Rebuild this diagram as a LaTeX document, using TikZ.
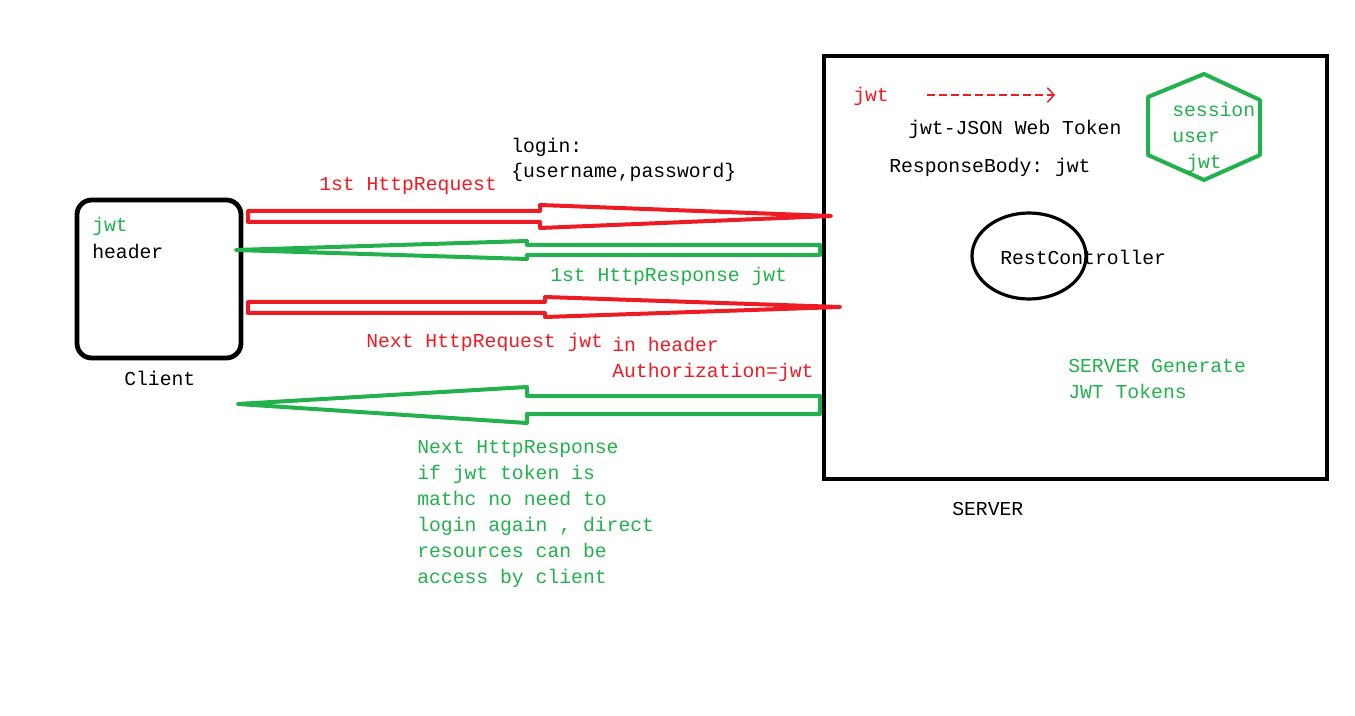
\documentclass[tikz,border=0pt]{standalone}
\usepackage{fontspec}
\setmonofont{Liberation Mono}
\usetikzlibrary{positioning,arrows.meta,shapes.geometric}
\definecolor{jwtred}{HTML}{ED1C24}
\definecolor{jwtgreen}{HTML}{22B14C}
\tikzset{
    txt/.style={font=\ttfamily\fontsize{14.8}{19.5}\selectfont,inner sep=0pt,anchor=base west,yshift=-1.5pt},
    redtxt/.style={txt,text=jwtred},
    greentxt/.style={txt,text=jwtgreen},
    reqarrow/.style={draw=jwtred,line width=3pt,line join=round},
    resparrow/.style={draw=jwtgreen,line width=3pt,line join=round},
    clientbox/.style={draw,line width=3.6pt,rounded corners=11pt,minimum width=123pt,minimum height=118.5pt},
    serverbox/.style={draw,line width=3pt,minimum width=377pt,minimum height=317pt},
    ctrl/.style={ellipse,draw,line width=2.4pt,minimum width=85.5pt,minimum height=64.5pt},
    store/.style={draw=jwtgreen,line width=3pt,line join=round},
}

\begin{document}
\begin{tikzpicture}[x=0.75pt,y=-0.75pt]
    \useasboundingbox (0,0) rectangle (1355,716);

    % client and server
    \node[clientbox] (client) at (159,279) {};
    \node[txt,text=jwtgreen] (cjwt) at (92,230) {jwt};
    \node[txt] (chead) at (92,257) {header};
    \node[txt] (clabel) at (124,383) {Client};

    \node[serverbox] (server) at (1075.5,267.5) {};
    \node[txt] (slabel) at (952,513) {SERVER};
    \node[ctrl] (rest) at (1029,256) {};
    \node[txt] (restlbl) at (1000,263) {RestController};

    % session store
    \draw[store] (1204,74) -- (1260,100) -- (1260,155) -- (1204,180)
        -- (1148,155) -- (1148,97) -- cycle;
    \node[greentxt] (sess) at (1172,115) {session};
    \node[greentxt] (suser) at (1172,141) {user};
    \node[greentxt] (sjwt) at (1186,167) {jwt};

    % server notes
    \node[redtxt] (tok) at (853,100) {jwt};
    \coordinate (tokend) at (1055,95);
    \draw[jwtred,line width=1.1pt,dash pattern=on 6pt off 3pt,
        -{Straight Barb[length=5pt,width=11pt]}] (927,95) -- (tokend);
    \node[txt] (tokdef) at (908,133) {jwt-JSON Web Token};
    \node[txt] (body) at (889,171) {ResponseBody: jwt};
    \node[greentxt] (gen1) at (1068,370) {SERVER Generate};
    \node[greentxt] (gen2) at (1068,396) {JWT Tokens};

    % 1st request / response
    \draw[reqarrow] (248,211) -- (540,211) -- (540,205) -- (831,216)
        -- (540,228) -- (540,222) -- (248,222) -- cycle;
    \node[redtxt] (req1) at (319,189) {1st HttpRequest};
    \node[txt] (login) at (511,151) {login:};
    \node[txt] (cred) at (511,176) {\{username,password\}};

    \draw[resparrow] (820,245) -- (527,245) -- (527,241) -- (236,250)
        -- (527,259) -- (527,255) -- (820,255) -- cycle;
    \node[greentxt] (resp1) at (550,280) {1st HttpResponse jwt};

    % next request / response
    \draw[reqarrow] (248,302) -- (545,302) -- (545,297) -- (840,307)
        -- (545,317) -- (545,313) -- (248,313) -- cycle;
    \node[redtxt] (req2) at (366,346) {Next HttpRequest jwt};
    \node[redtxt] (hdr1) at (612,349) {in header};
    \node[redtxt] (hdr2) at (612,375) {Authorization=jwt};

    \draw[resparrow] (820,396) -- (527,396) -- (527,387) -- (238,404)
        -- (527,423) -- (527,414) -- (820,414) -- cycle;
    \foreach \ln [count=\i] in {Next HttpResponse,if jwt token is,mathc no need to,
        {login again , direct},resources can be,access by client}
        \node[greentxt] (resp\i) at (417,425+26*\i) {\ln};
\end{tikzpicture}
\end{document}
